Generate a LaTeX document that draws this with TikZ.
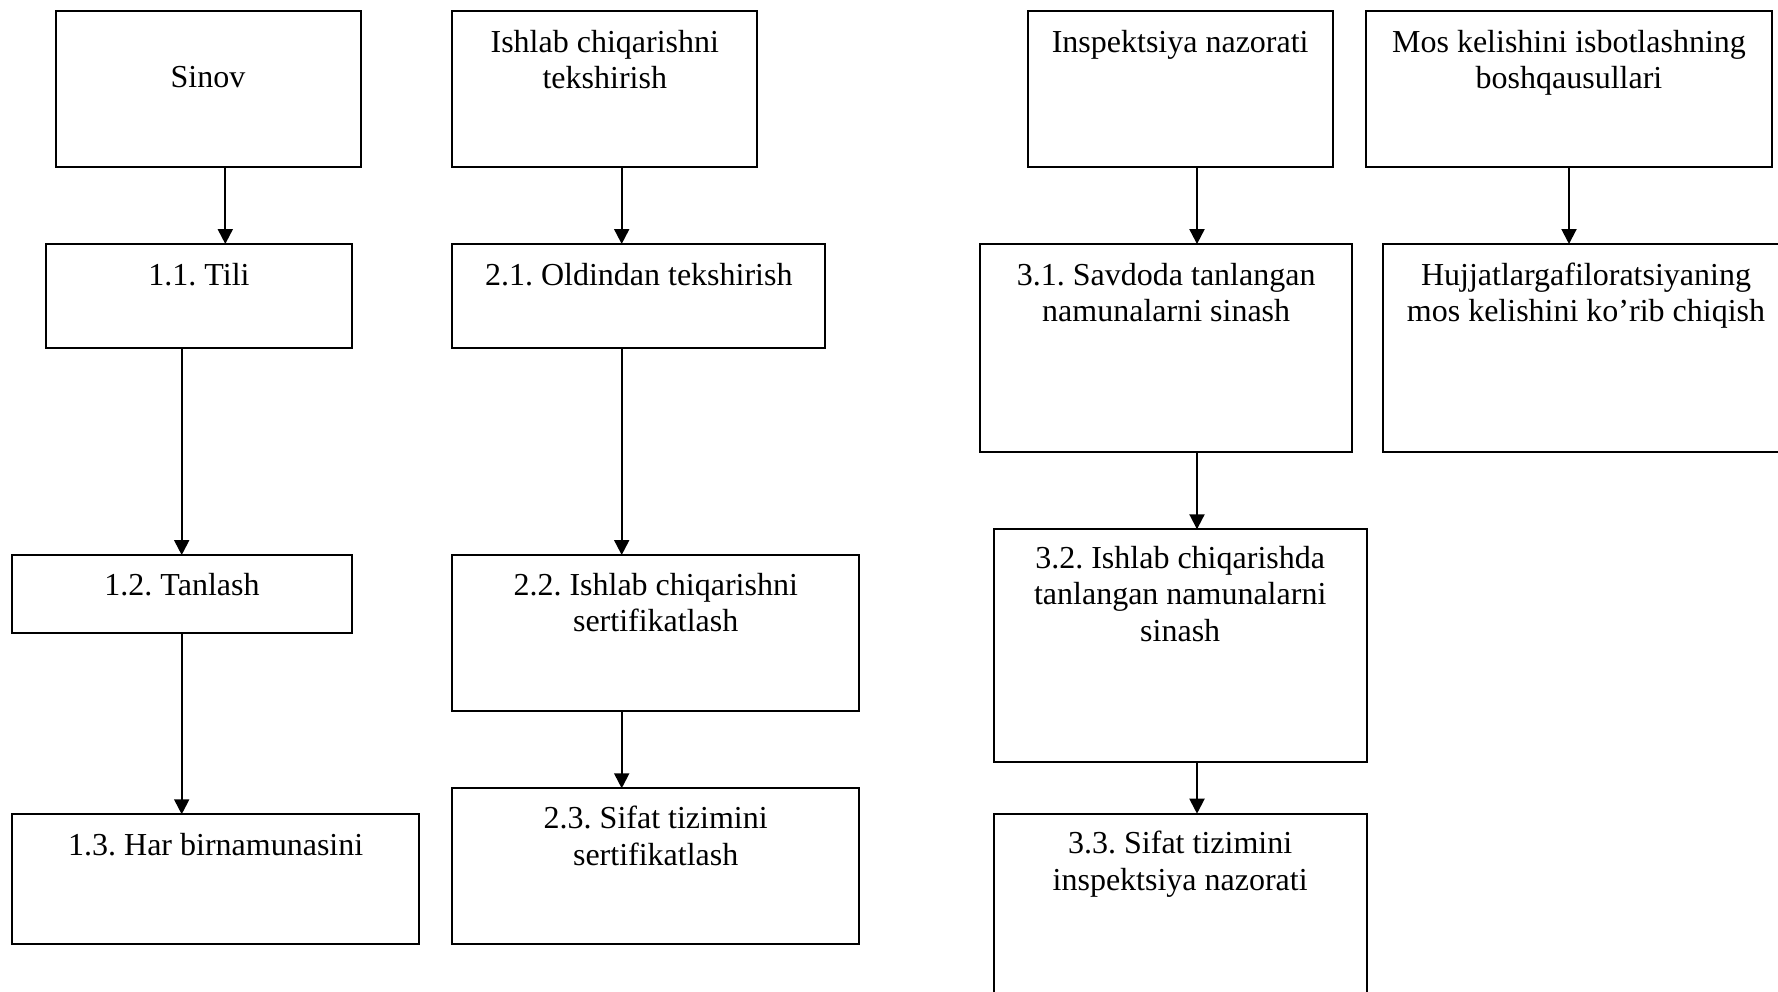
\documentclass[tikz,border=0pt]{standalone}
\usepackage{fontspec}
\setmainfont{Liberation Serif}
\usetikzlibrary{arrows.meta}
\begin{document}
\frenchspacing
\begin{tikzpicture}[x=0.5pt,y=-0.5pt,
    blok/.style={draw,line width=1pt,inner sep=0pt,outer sep=0pt},
    matn/.style={anchor=base,align=center,inner sep=0pt,font=\fontsize{16}{18.4}\selectfont},
    strelka/.style={line width=1pt,-{Triangle[width=7.5pt,length=7.5pt]}}]
  \useasboundingbox (0,0) rectangle (1778,991);
  \clip (0,0) rectangle (1778,991);
  \node[blok,minimum width=152.5pt,minimum height=77.75pt] (s0) at (208,88.75) {};
  \node[blok,minimum width=152.5pt,minimum height=77.75pt] (t0) at (604.8,88.75) {};
  \node[blok,minimum width=152.5pt,minimum height=77.75pt] (i0) at (1180.2,88.75) {};
  \node[blok,minimum width=203pt,minimum height=77.75pt] (m0) at (1569,88.75) {};
  \node[blok,minimum width=152.7pt,minimum height=52pt] (s1) at (199,296) {};
  \node[blok,minimum width=186.5pt,minimum height=52pt] (t1) at (638.8,296) {};
  \node[blok,minimum width=186.2pt,minimum height=103.8pt] (i1) at (1166.2,347.9) {};
  \node[blok,minimum width=203pt,minimum height=104pt] (m1) at (1586,348) {};
  \node[blok,minimum width=169.7pt,minimum height=39.15pt] (s2) at (182,594.2) {};
  \node[blok,minimum width=203.3pt,minimum height=78pt] (t2) at (655.7,633) {};
  \node[blok,minimum width=186.5pt,minimum height=116.5pt] (i2) at (1180.2,645.8) {};
  \node[blok,minimum width=203.3pt,minimum height=64.7pt] (s3) at (215.7,879) {};
  \node[blok,minimum width=203.3pt,minimum height=78pt] (t3) at (655.7,866.3) {};
  \node[blok,minimum width=186.5pt,minimum height=128pt] (i3) at (1180.2,941.7) {};

  % base = baseline of the last line
  \node[matn] (s0m) at ([yshift=-38pt]s0.north) {Sinov};
  \node[matn] (t0m) at ([yshift=-38.9pt]t0.north) {Ishlab chiqarishni\\tekshirish};
  \node[matn] (i0m) at ([yshift=-20.5pt]i0.north) {Inspektsiya nazorati};
  \node[matn] (m0m) at ([yshift=-38.9pt]m0.north) {Mos kelishini isbotlashning\\boshqausullari};
  \node[matn] (s1m) at ([yshift=-20.5pt]s1.north) {1.1. Tili};
  \node[matn] (t1m) at ([yshift=-20.5pt]t1.north) {2.1. Oldindan tekshirish};
  \node[matn] (i1m) at ([yshift=-38.9pt]i1.north) {3.1. Savdoda tanlangan\\namunalarni sinash};
  \node[matn] (m1m) at ([yshift=-38.9pt]m1.north) {Hujjatlargafiloratsiyaning\\mos kelishini ko’rib chiqish};
  \node[matn] (s2m) at ([yshift=-20pt]s2.north) {1.2. Tanlash};
  \node[matn] (t2m) at ([yshift=-38.4pt]t2.north) {2.2. Ishlab chiqarishni\\sertifikatlash};
  \node[matn] (i2m) at ([yshift=-56.2pt]i2.north) {3.2. Ishlab chiqarishda\\tanlangan namunalarni\\sinash};
  \node[matn] (s3m) at ([yshift=-20.5pt]s3.north) {1.3. Har birnamunasini};
  \node[matn] (t3m) at ([yshift=-38.4pt]t3.north) {2.3. Sifat tizimini\\sertifikatlash};
  \node[matn] (i3m) at ([yshift=-38.4pt]i3.north) {3.3. Sifat tizimini\\inspektsiya nazorati};

  \coordinate (k1) at (225.3,0);
  \coordinate (k2) at (181.7,0);
  \coordinate (k3) at (621.7,0);
  \coordinate (k4) at (1197,0);
  \coordinate (k5) at (1569,0);
  \draw[strelka] (s0.south -| k1) -- (s1.north -| k1);
  \draw[strelka] (s1.south -| k2) -- (s2.north -| k2);
  \draw[strelka] (s2.south -| k2) -- (s3.north -| k2);
  \draw[strelka] (t0.south -| k3) -- (t1.north -| k3);
  \draw[strelka] (t1.south -| k3) -- (t2.north -| k3);
  \draw[strelka] (t2.south -| k3) -- (t3.north -| k3);
  \draw[strelka] (i0.south -| k4) -- (i1.north -| k4);
  \draw[strelka] (i1.south -| k4) -- (i2.north -| k4);
  \draw[strelka] (i2.south -| k4) -- (i3.north -| k4);
  \draw[strelka] (m0.south -| k5) -- (m1.north -| k5);
\end{tikzpicture}
\end{document}
